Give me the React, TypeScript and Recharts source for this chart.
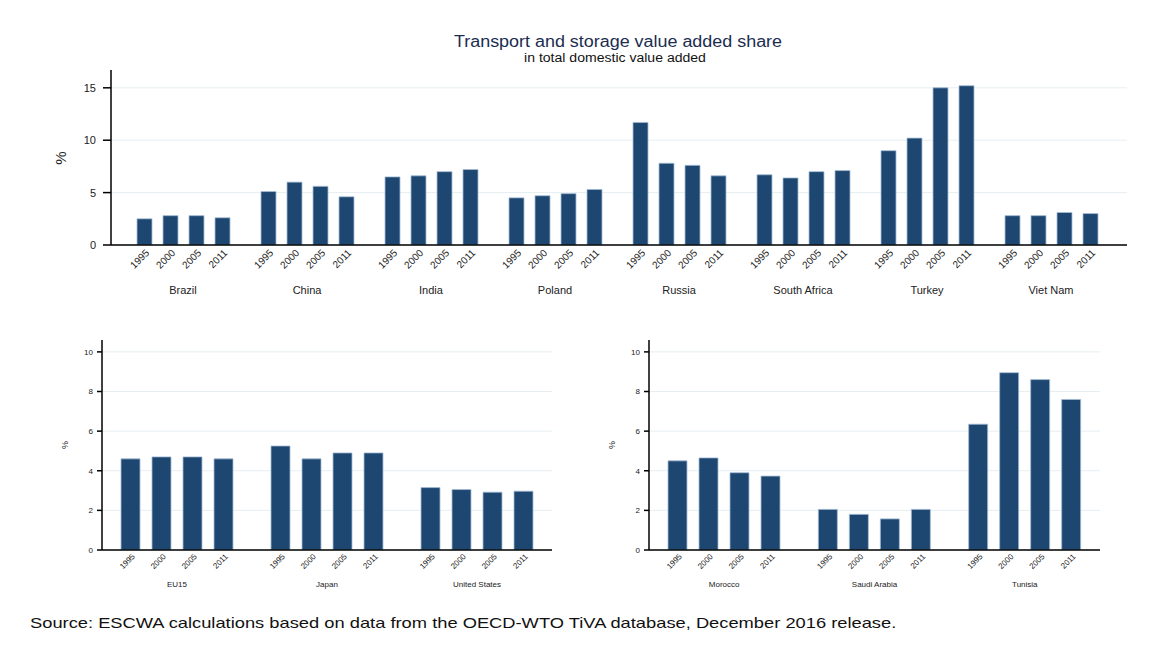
import React from "react"
import { Bar, BarChart, CartesianGrid, LabelList, XAxis, YAxis } from "recharts"

const years = ["1995", "2000", "2005", "2011"]

const topCountries = ["Brazil", "China", "India", "Poland", "Russia", "South Africa", "Turkey", "Viet Nam"]
const top1995 = [2.5, 5.1, 6.5, 4.5, 11.7, 6.7, 9.0, 2.8]
const top2000 = [2.8, 6.0, 6.6, 4.7, 7.8, 6.4, 10.2, 2.8]
const top2005 = [2.8, 5.6, 7.0, 4.9, 7.6, 7.0, 15.0, 3.1]
const top2011 = [2.6, 4.6, 7.2, 5.3, 6.6, 7.1, 15.2, 3.0]
const topTicks = [0, 5, 10, 15]

const leftCountries = ["EU15", "Japan", "United States"]
const left1995 = [4.6, 5.25, 3.15]
const left2000 = [4.7, 4.6, 3.05]
const left2005 = [4.7, 4.9, 2.92]
const left2011 = [4.6, 4.9, 2.97]

const rightCountries = ["Morocco", "Saudi Arabia", "Tunisia"]
const right1995 = [4.5, 2.05, 6.35]
const right2000 = [4.65, 1.8, 8.95]
const right2005 = [3.9, 1.57, 8.6]
const right2011 = [3.73, 2.05, 7.6]
const bottomTicks = [0, 2, 4, 6, 8, 10]

const FONT = '"Liberation Sans", Arial, sans-serif'
const BAR_FILL = "#1d4670"
const BAR_EDGE = "#a3bcd5"

function buildRows(countries: string[], series: number[][]) {
  return countries.map((country, i) => {
    const row: Record<string, string | number> = { country }
    years.forEach((yr, k) => {
      row["y" + yr] = series[k][i]
    })
    return row
  })
}

const topData = buildRows(topCountries, [top1995, top2000, top2005, top2011])
const leftData = buildRows(leftCountries, [left1995, left2000, left2005, left2011])
const rightData = buildRows(rightCountries, [right1995, right2000, right2005, right2011])

interface PanelProps {
  data: Record<string, string | number>[]
  width: number
  height: number
  margin: { top: number; right: number; bottom: number; left: number }
  yAxisWidth: number
  xAxisHeight: number
  domainMax: number
  ticks: number[]
  padding: { left: number; right: number }
  barSize: number
  barGap: number
  tickFont: number
  tickSize: number
  yearFont: number
  yearDx: number
  yearDy: number
  countryFont: number
  countryDy: number
}

function Panel(p: PanelProps) {
  const yearLabel = (yr: string) => (props: any) => {
    const vb = props.viewBox ?? props
    const cx = vb.x + vb.width / 2 + p.yearDx
    const by = vb.y + vb.height + p.yearDy
    return (
      <text
        transform={`translate(${cx},${by}) rotate(-45)`}
        textAnchor="end"
        dy="0.35em"
        fontSize={p.yearFont}
        fontFamily={FONT}
        fill="#222"
      >
        {yr}
      </text>
    )
  }

  const countryTick = (props: any) => (
    <text
      x={props.x}
      y={props.y + p.countryDy}
      textAnchor="middle"
      fontSize={p.countryFont}
      fontFamily={FONT}
      fill="#222"
    >
      {props.payload.value}
    </text>
  )

  return (
    <BarChart
      width={p.width}
      height={p.height}
      data={p.data}
      margin={p.margin}
      barSize={p.barSize}
      barGap={p.barGap}
    >
      <CartesianGrid vertical={false} stroke="#e6eef2" syncWithTicks horizontalValues={p.ticks} />
      <XAxis
        dataKey="country"
        height={p.xAxisHeight}
        padding={p.padding}
        tickLine={false}
        tickSize={0}
        tickMargin={0}
        stroke="#000"
        strokeWidth={1.5}
        tick={countryTick}
        interval={0}
      />
      <YAxis
        width={p.yAxisWidth}
        domain={[0, p.domainMax]}
        ticks={p.ticks}
        allowDataOverflow
        stroke="#000"
        strokeWidth={1.5}
        tickSize={p.tickSize}
        tickMargin={p.tickSize - 1}
        tick={{ fontSize: p.tickFont, fontFamily: FONT, fill: "#222" }}
      />
      {years.map((yr) => (
        <Bar
          key={yr}
          dataKey={"y" + yr}
          fill={BAR_FILL}
          stroke={BAR_EDGE}
          strokeWidth={0.8}
          isAnimationActive={false}
        >
          <LabelList dataKey={"y" + yr} content={yearLabel(yr)} />
        </Bar>
      ))}
    </BarChart>
  )
}

function Percent({ left, top, size }: { left: number; top: number; size: number }) {
  return (
    <div
      style={{
        position: "absolute",
        left,
        top,
        fontSize: size,
        fontFamily: FONT,
        color: "#222",
        transform: "translate(-50%, -50%) rotate(-90deg)",
        lineHeight: 1,
      }}
    >
      %
    </div>
  )
}

export default function App() {
  return (
    <div
      style={{
        position: "absolute",
        left: 0,
        top: 0,
        width: 1162,
        height: 647,
        background: "#fff",
        fontFamily: FONT,
      }}
    >
      <div
        style={{
          position: "absolute",
          left: 618,
          top: 34,
          transform: "translateX(-50%) scaleX(1.12)",
          whiteSpace: "nowrap",
          fontSize: 16,
          lineHeight: "16px",
          color: "#1b2d50",
        }}
      >
        Transport and storage value added share
      </div>
      <div
        style={{
          position: "absolute",
          left: 615,
          top: 52,
          transform: "translateX(-50%) scaleX(1.17)",
          whiteSpace: "nowrap",
          fontSize: 12,
          lineHeight: "12px",
          color: "#111",
        }}
      >
        in total domestic value added
      </div>

      <div style={{ position: "absolute", left: 0, top: 0 }}>
        <Panel
          data={topData}
          width={1162}
          height={310}
          margin={{ top: 70, right: 35, bottom: 5, left: 0 }}
          yAxisWidth={111}
          xAxisHeight={60}
          domainMax={16.7}
          ticks={topTicks}
          padding={{ left: 10, right: 14 }}
          barSize={15}
          barGap={11}
          tickFont={11}
          tickSize={8}
          yearFont={10}
          yearDx={3}
          yearDy={6}
          countryFont={11}
          countryDy={49}
        />
      </div>
      <Percent left={60} top={158} size={15} />

      <div style={{ position: "absolute", left: 0, top: 320 }}>
        <Panel
          data={leftData}
          width={560}
          height={280}
          margin={{ top: 20, right: 8, bottom: 5, left: 0 }}
          yAxisWidth={102}
          xAxisHeight={45}
          domainMax={10.6}
          ticks={bottomTicks}
          padding={{ left: 0, right: 0 }}
          barSize={19}
          barGap={12}
          tickFont={8}
          tickSize={5}
          yearFont={8}
          yearDx={3}
          yearDy={5}
          countryFont={8}
          countryDy={37}
        />
      </div>
      <Percent left={65} top={445} size={9} />

      <div style={{ position: "absolute", left: 560, top: 320 }}>
        <Panel
          data={rightData}
          width={560}
          height={280}
          margin={{ top: 20, right: 20, bottom: 5, left: 0 }}
          yAxisWidth={89}
          xAxisHeight={45}
          domainMax={10.6}
          ticks={bottomTicks}
          padding={{ left: 0, right: 0 }}
          barSize={19}
          barGap={12}
          tickFont={8}
          tickSize={5}
          yearFont={8}
          yearDx={3}
          yearDy={5}
          countryFont={8}
          countryDy={37}
        />
      </div>
      <Percent left={612} top={445} size={9} />

      <div
        style={{
          position: "absolute",
          left: 30,
          top: 615,
          whiteSpace: "nowrap",
          fontSize: 15,
          lineHeight: "15px",
          color: "#111",
          transform: "scaleX(1.22)",
          transformOrigin: "left center",
        }}
      >
        Source: ESCWA calculations based on data from the OECD-WTO TiVA database, December 2016 release.
      </div>
    </div>
  )
}
